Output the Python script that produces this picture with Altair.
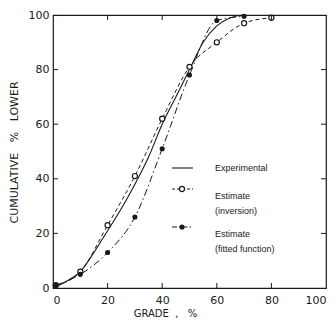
import altair as alt
import pandas as pd

# Cumulative % lower versus grade, %
exp_grade = [0, 5, 10, 15, 20, 25, 30, 35, 40, 45, 50, 55, 60, 65, 70]
exp_cum = [0, 2.5, 6, 13, 21, 29, 38, 48, 60, 70, 80, 90, 96, 99, 100]

inv_grade = [1, 10, 20, 30, 40, 50, 60, 70, 80]
inv_cum = [1, 6, 23, 41, 62, 81, 90, 97, 99]

fit_grade = [1, 10, 20, 30, 40, 50, 60, 70]
fit_cum = [1, 5, 13, 26, 51, 78, 98, 99.5]

tick_values = [20, 40, 60, 80]
axis_values = [0, 20, 40, 60, 80, 100]

legend_labels = ["Experimental", "Estimate\n(inversion)", "Estimate\n(fitted function)"]

INK = "#1a1a1a"
FONT = "DejaVu Sans"
W = 273
H = 273

exp_df = pd.DataFrame({"grade": exp_grade, "cum": exp_cum})
inv_df = pd.DataFrame({"grade": inv_grade, "cum": inv_cum})
fit_df = pd.DataFrame({"grade": fit_grade, "cum": fit_cum})
ticks_df = pd.DataFrame({"v": tick_values})

xscale = alt.Scale(domain=[0, 100], nice=False, zero=False)
yscale = alt.Scale(domain=[0, 100], nice=False, zero=False)

x_axis = alt.Axis(
    values=axis_values, tickSize=0, domain=False, grid=False,
    labelFont=FONT, labelFontSize=11, labelColor=INK, labelPadding=6,
    title="GRADE\u00a0\u00a0,\u00a0\u00a0\u00a0%", titleFont=FONT, titleFontSize=10,
    titleFontWeight="normal", titleColor=INK,
    titleX=112, titleY=25, titleBaseline="middle", titleAlign="center",
)
y_axis = alt.Axis(
    values=axis_values, tickSize=0, domain=False, grid=False,
    labelFont=FONT, labelFontSize=11, labelColor=INK, labelPadding=4,
    title="CUMULATIVE\u00a0\u00a0\u00a0%\u00a0\u00a0\u00a0LOWER", titleFont=FONT, titleFontSize=11,
    titleFontWeight="normal", titleColor=INK, titleAngle=-90,
    titleX=-39, titleY=137, titleBaseline="middle", titleAlign="center",
)

X = alt.X("grade:Q", scale=xscale, axis=x_axis)
Y = alt.Y("cum:Q", scale=yscale, axis=y_axis)

exp_line = alt.Chart(exp_df).mark_line(
    color=INK, strokeWidth=1.1, interpolate="monotone"
).encode(x=X, y=Y)

inv_line = alt.Chart(inv_df).mark_line(
    color=INK, strokeWidth=1, strokeDash=[4, 3], interpolate="monotone"
).encode(x=alt.X("grade:Q", scale=xscale), y=alt.Y("cum:Q", scale=yscale))
inv_pts = alt.Chart(inv_df).mark_point(
    shape="circle", size=26, filled=True, fill="white", stroke=INK, strokeWidth=1.2, opacity=1
).encode(x=alt.X("grade:Q", scale=xscale), y=alt.Y("cum:Q", scale=yscale))

fit_line = alt.Chart(fit_df).mark_line(
    color=INK, strokeWidth=1, strokeDash=[7, 3, 1.5, 3], interpolate="monotone"
).encode(x=alt.X("grade:Q", scale=xscale), y=alt.Y("cum:Q", scale=yscale))
fit_pts = alt.Chart(fit_df).mark_point(
    shape="circle", size=26, filled=True, color=INK, opacity=1
).encode(x=alt.X("grade:Q", scale=xscale), y=alt.Y("cum:Q", scale=yscale))

# inward ticks on all four sides
tx = alt.X("v:Q", scale=xscale)
ty = alt.Y("v:Q", scale=yscale)
tick_style = dict(color=INK, strokeWidth=1)
ticks_bottom = alt.Chart(ticks_df).mark_rule(**tick_style).encode(x=tx, y=alt.value(H), y2=alt.value(H - 5))
ticks_top = alt.Chart(ticks_df).mark_rule(**tick_style).encode(x=tx, y=alt.value(0), y2=alt.value(5))
ticks_left = alt.Chart(ticks_df).mark_rule(**tick_style).encode(y=ty, x=alt.value(0), x2=alt.value(5))
ticks_right = alt.Chart(ticks_df).mark_rule(**tick_style).encode(y=ty, x=alt.value(W), x2=alt.value(W - 5))

# legend drawn inside the plot
one = pd.DataFrame({"k": [0]})
lx0, lx1, lxm, ltx = 119, 140, 129, 162
ly = [153, 174, 212]
leg_exp = alt.Chart(one).mark_rule(color=INK, strokeWidth=1.1).encode(
    x=alt.value(lx0), x2=alt.value(lx1), y=alt.value(ly[0]))
leg_inv = alt.Chart(one).mark_rule(color=INK, strokeWidth=1, strokeDash=[3, 2]).encode(
    x=alt.value(lx0), x2=alt.value(lx1), y=alt.value(ly[1]))
leg_inv_pt = alt.Chart(one).mark_point(
    shape="circle", size=26, filled=True, fill="white", stroke=INK, strokeWidth=1.2, opacity=1
).encode(x=alt.value(lxm), y=alt.value(ly[1]))
leg_fit = alt.Chart(one).mark_rule(color=INK, strokeWidth=1, strokeDash=[5, 2, 1.5, 2]).encode(
    x=alt.value(lx0), x2=alt.value(lx1), y=alt.value(ly[2]))
leg_fit_pt = alt.Chart(one).mark_point(
    shape="circle", size=26, filled=True, color=INK, opacity=1
).encode(x=alt.value(lxm), y=alt.value(ly[2]))

text_style = dict(align="left", baseline="middle", font="Liberation Sans", fontSize=9,
                  color=INK, lineBreak="\n", lineHeight=15)
leg_texts = [
    alt.Chart(pd.DataFrame({"t": [lbl]})).mark_text(**text_style).encode(
        x=alt.value(ltx), y=alt.value(yy), text="t:N")
    for lbl, yy in zip(legend_labels, [ly[0], ly[1] + 7, ly[2] + 7])
]

chart = alt.layer(
    exp_line, inv_line, fit_line, inv_pts, fit_pts,
    ticks_bottom, ticks_top, ticks_left, ticks_right,
    leg_exp, leg_inv, leg_inv_pt, leg_fit, leg_fit_pt, *leg_texts,
).properties(
    width=W, height=H,
    autosize=alt.AutoSizeParams(type="none"),
    padding={"left": 53, "top": 15, "right": 10, "bottom": 40},
    background="white",
).configure_view(
    stroke=INK, strokeWidth=1.2,
)

chart.save("out.html", embed_options={"renderer": "svg", "actions": False})
